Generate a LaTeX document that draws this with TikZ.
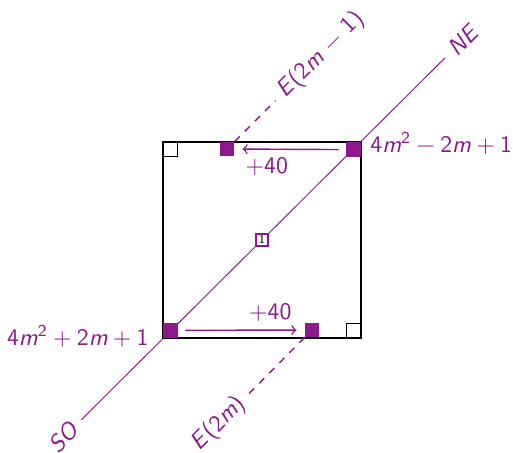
\documentclass[tikz,border=0pt]{standalone}
\usepackage{amsmath,amssymb}
\usetikzlibrary{positioning}
\definecolor{vio}{RGB}{140,25,140}
\newcommand{\mv}{\textit{m}}
\newcommand{\opsp}{\hspace{2.2pt}}

\begin{document}
\begin{tikzpicture}[x=0.42pt, y=-0.42pt,
  every node/.style={font=\sffamily},
  frame/.style={thick, black},
  diag/.style={vio, thin},
  dsh/.style={vio, dashed, semithick},
  arr/.style={->, vio, semithick, shorten <=3pt, shorten >=3.3pt},
  mk/.style={fill=vio, minimum size=6pt, inner sep=0pt},
  ok/.style={draw, thin, fill=white, minimum size=6pt, inner sep=0pt},
  lbl/.style={text=vio}
]
\useasboundingbox (0,0) rectangle (513,452);
% ---------------- corners ----------------
\coordinate (sw) at (163,338);
\coordinate (ne) at (361,142);
\coordinate (nw) at (163,142);
\coordinate (se) at (361,338);
% ---------------- diagonal ----------------
\node[lbl, rotate=45] (so) at (64,437) {\textit{SO}};
\node[lbl, rotate=45] (nelbl) at (463,40) {\textit{NE}};
\draw[diag] (so) -- (nelbl);
% ---------------- square ----------------
\draw[frame] (sw) rectangle (ne);
\node[ok, anchor=north west] (tl) at (nw) {};
\node[ok, anchor=south east] (br) at (se) {};
\node[mk, anchor=south west] (a) at (sw) {};
\node[mk, anchor=north east] (b) at (ne) {};
\node[mk] (c) at (227,149) {};
\node[mk] (d) at (312,330) {};
\node[draw=vio, thick, fill=white, minimum size=5pt, inner sep=0.4pt,
      font=\tiny] (mid) at (262,240) {1};
% ---------------- moves ----------------
\draw[arr] (b) -- (c) node[lbl, pos=0.71, below] {+40};
\draw[arr] (a) -- (d) node[lbl, pos=0.73, above] {+40};
\node[lbl, rotate=45] (e1) at (321,55)
  {\textit{E}(2\mv\hspace{3.2pt}−\hspace{3.2pt}1)};
\node[lbl, rotate=45] (e0) at (219,424) {\textit{E}(2\mv)};
\draw[dsh] (c.north east) -- (e1);
\draw[dsh] (d.south west) -- (e0);
% ---------------- values ----------------
\node[lbl, anchor=base west] (vne) at (362,152)
  {4\mv\textsuperscript{2}\opsp−\opsp2\mv\opsp+\opsp1};
\node[lbl, anchor=base east] (vsw) at (157,345)
  {4\mv\textsuperscript{2}\opsp+\opsp2\mv\opsp+\opsp1};
\end{tikzpicture}
\end{document}
